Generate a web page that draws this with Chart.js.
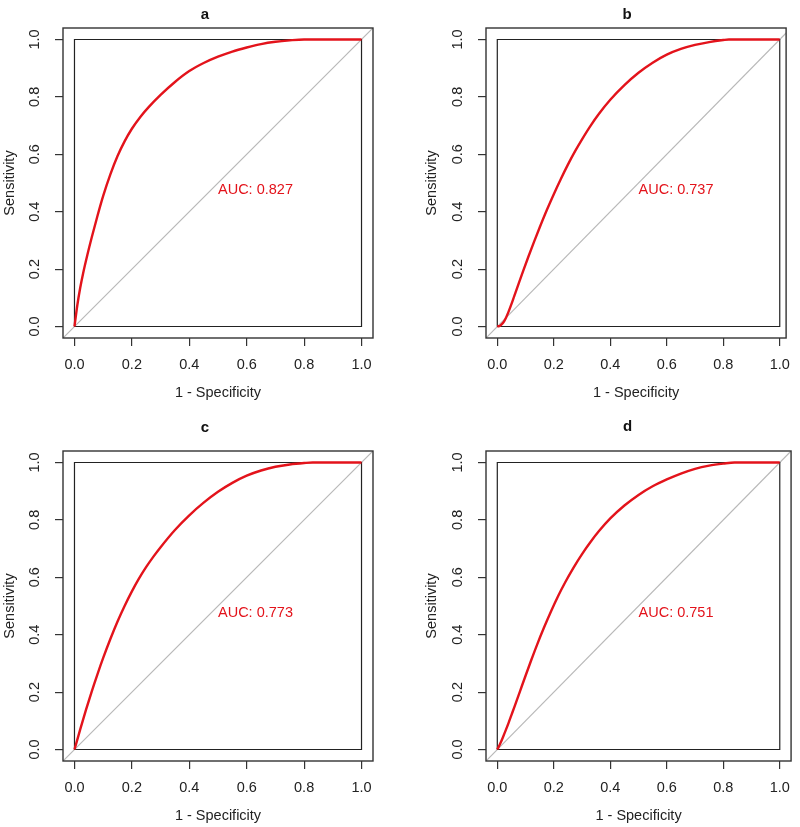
<!DOCTYPE html>
<html>
<head>
<meta charset="utf-8">
<script src="https://cdn.jsdelivr.net/npm/chart.js@4.4.1/dist/chart.umd.min.js"></script>
<style>
  html, body { margin: 0; padding: 0; background: #fff; }
  body { width: 800px; height: 827px; position: relative; overflow: hidden; }
  .panel { position: absolute; }
</style>
</head>
<body>
<div class="panel" style="left:0;top:0"><canvas id="rocA" width="400" height="410"></canvas></div>
<div class="panel" style="left:400px;top:0"><canvas id="rocB" width="400" height="410"></canvas></div>
<div class="panel" style="left:0;top:410px"><canvas id="rocC" width="400" height="417"></canvas></div>
<div class="panel" style="left:400px;top:410px"><canvas id="rocD" width="400" height="417"></canvas></div>
<script>
// --- data: 1 - specificity (fpr) vs sensitivity (tpr) ---
const panelNames = ['a', 'b', 'c', 'd'];
const aucLabels = ['AUC: 0.827', 'AUC: 0.737', 'AUC: 0.773', 'AUC: 0.751'];

const fprA = [0, 0.01, 0.02, 0.03, 0.045, 0.06, 0.08, 0.1, 0.125, 0.15, 0.175, 0.2, 0.23, 0.26, 0.3, 0.35, 0.4, 0.45, 0.5, 0.55, 0.6, 0.65, 0.7, 0.75, 0.8, 1.0];
const tprA = [0, 0.075, 0.135, 0.185, 0.25, 0.31, 0.385, 0.455, 0.53, 0.594, 0.646, 0.689, 0.731, 0.766, 0.807, 0.852, 0.89, 0.918, 0.94, 0.958, 0.972, 0.984, 0.992, 0.997, 1.0, 1.0];

const fprB = [0, 0.01, 0.02, 0.03, 0.04, 0.05, 0.06, 0.075, 0.092, 0.11, 0.13, 0.15, 0.175, 0.2, 0.225, 0.25, 0.275, 0.3, 0.33, 0.36, 0.4, 0.45, 0.5, 0.55, 0.6, 0.65, 0.7, 0.75, 0.8, 0.82, 1.0];
const tprB = [0, 0.003, 0.012, 0.029, 0.052, 0.078, 0.106, 0.148, 0.195, 0.243, 0.295, 0.345, 0.405, 0.461, 0.514, 0.564, 0.61, 0.652, 0.699, 0.741, 0.79, 0.841, 0.884, 0.919, 0.947, 0.967, 0.981, 0.991, 0.998, 1.0, 1.0];

const fprC = [0, 0.02, 0.04, 0.06, 0.08, 0.1, 0.125, 0.15, 0.175, 0.2, 0.225, 0.25, 0.275, 0.3, 0.35, 0.4, 0.45, 0.5, 0.55, 0.6, 0.65, 0.7, 0.75, 0.8, 0.83, 1.0];
const tprC = [0, 0.07, 0.138, 0.202, 0.262, 0.319, 0.385, 0.446, 0.501, 0.551, 0.596, 0.636, 0.672, 0.705, 0.765, 0.816, 0.86, 0.898, 0.929, 0.954, 0.972, 0.985, 0.993, 0.998, 1.0, 1.0];

const fprD = [0, 0.01, 0.02, 0.03, 0.04, 0.05, 0.06, 0.08, 0.1, 0.12, 0.14, 0.165, 0.19, 0.215, 0.24, 0.27, 0.3, 0.33, 0.36, 0.4, 0.45, 0.5, 0.55, 0.6, 0.65, 0.7, 0.75, 0.8, 0.84, 1.0];
const tprD = [0, 0.02, 0.043, 0.0675, 0.093, 0.12, 0.147, 0.202, 0.257, 0.311, 0.363, 0.424, 0.481, 0.534, 0.582, 0.634, 0.681, 0.723, 0.761, 0.805, 0.85, 0.887, 0.917, 0.941, 0.9615, 0.978, 0.989, 0.996, 1.0, 1.0];

const tickValues = [0, 0.2, 0.4, 0.6, 0.8, 1.0];
const unitBoxX = [0, 1, 1, 0, 0];
const unitBoxY = [0, 0, 1, 1, 0];
const aucPos = [0.5, 0.476];

// --- per panel layout (pixels inside each canvas) ---
const layouts = [
  { id: 'rocA', top: 28, right: 27, yWidth: 63, xHeight: 72, titleY: 15, titleDx: -13, xMax: 1.04, yTitlePad: 1.3, xTitlePad: 8.3 },
  { id: 'rocB', top: 28, right: 8, yWidth: 86, xHeight: 72, titleY: 15, titleDx: -9, xMax: 1.0225, yTitlePad: 23, xTitlePad: 8.3 },
  { id: 'rocC', top: 41, right: 27, yWidth: 63, xHeight: 66, titleY: 18, titleDx: -13, xMax: 1.04, yTitlePad: 1.3, xTitlePad: 2.3 },
  { id: 'rocD', top: 41, right: 4, yWidth: 86, xHeight: 66, titleY: 17, titleDx: -11, xMax: 1.04, yTitlePad: 23, xTitlePad: 2.3 }
];
const curves = [[fprA, tprA], [fprB, tprB], [fprC, tprC], [fprD, tprD]];

const FONT = '"Liberation Sans", Arial, sans-serif';
const INK = '#222';
const RED = '#e3131b';

const toPoints = (xs, ys) => xs.map((v, i) => ({ x: v, y: ys[i] }));

// outer frame, AUC label and panel letter
const framePlugin = {
  id: 'frame',
  afterDraw(chart, args, opts) {
    const { ctx, chartArea: a, scales: { x, y } } = chart;
    ctx.save();
    ctx.strokeStyle = '#333';
    ctx.lineWidth = 1.4;
    ctx.strokeRect(a.left, a.top, a.width, a.height);
    ctx.fillStyle = RED;
    ctx.font = '14.5px ' + FONT;
    ctx.textAlign = 'left';
    ctx.textBaseline = 'middle';
    ctx.fillText(opts.auc, x.getPixelForValue(aucPos[0]), y.getPixelForValue(aucPos[1]));
    ctx.fillStyle = '#111';
    ctx.font = 'bold 15px ' + FONT;
    ctx.textAlign = 'center';
    ctx.fillText(opts.title, (a.left + a.right) / 2 + opts.titleDx, opts.titleY);
    ctx.restore();
  }
};

layouts.forEach((L, i) => {
  const [fpr, tpr] = curves[i];
  const lo = -0.04;
  new Chart(document.getElementById(L.id), {
    type: 'scatter',
    data: {
      datasets: [
        {
          data: toPoints(fpr, tpr),
          showLine: true, borderColor: RED, borderWidth: 2.4,
          pointRadius: 0, cubicInterpolationMode: 'monotone', order: 0
        },
        {
          data: toPoints(unitBoxX, unitBoxY),
          showLine: true, borderColor: '#222', borderWidth: 1.2,
          pointRadius: 0, tension: 0, order: 1
        },
        {
          data: toPoints([lo, 1.04], [lo, 1.04]),
          showLine: true, borderColor: '#b8b8b8', borderWidth: 1.2,
          pointRadius: 0, tension: 0, order: 2
        }
      ]
    },
    options: {
      responsive: false,
      animation: false,
      layout: { padding: { left: 0, top: L.top, right: L.right, bottom: 0 } },
      plugins: {
        legend: { display: false },
        tooltip: { enabled: false },
        frame: { auc: aucLabels[i], title: panelNames[i], titleY: L.titleY, titleDx: L.titleDx }
      },
      scales: {
        x: {
          type: 'linear', min: lo, max: L.xMax,
          afterBuildTicks: s => { s.ticks = tickValues.map(v => ({ value: v })); },
          afterFit: s => { s.height = L.xHeight; },
          ticks: { color: INK, font: { family: FONT, size: 14.5 }, padding: 10, maxRotation: 0, callback: v => v.toFixed(1) },
          grid: { drawOnChartArea: false, drawTicks: true, tickLength: 8, color: '#333', lineWidth: 1.2 },
          border: { display: false },
          title: { display: true, text: '1 - Specificity', color: INK, font: { family: FONT, size: 14.5 }, padding: { top: 0, bottom: L.xTitlePad } }
        },
        y: {
          type: 'linear', min: lo, max: 1.04,
          afterBuildTicks: s => { s.ticks = tickValues.map(v => ({ value: v })); },
          afterFit: s => { s.width = L.yWidth; },
          ticks: { color: INK, font: { family: FONT, size: 14.5 }, padding: 10.4, minRotation: 90, maxRotation: 90, crossAlign: 'center', callback: v => v.toFixed(1) },
          grid: { drawOnChartArea: false, drawTicks: true, tickLength: 8, color: '#333', lineWidth: 1.2 },
          border: { display: false },
          title: { display: true, text: 'Sensitivity', color: INK, font: { family: FONT, size: 14.5 }, padding: { top: L.yTitlePad, bottom: 0 } }
        }
      }
    },
    plugins: [framePlugin]
  });
});
</script>
</body>
</html>
